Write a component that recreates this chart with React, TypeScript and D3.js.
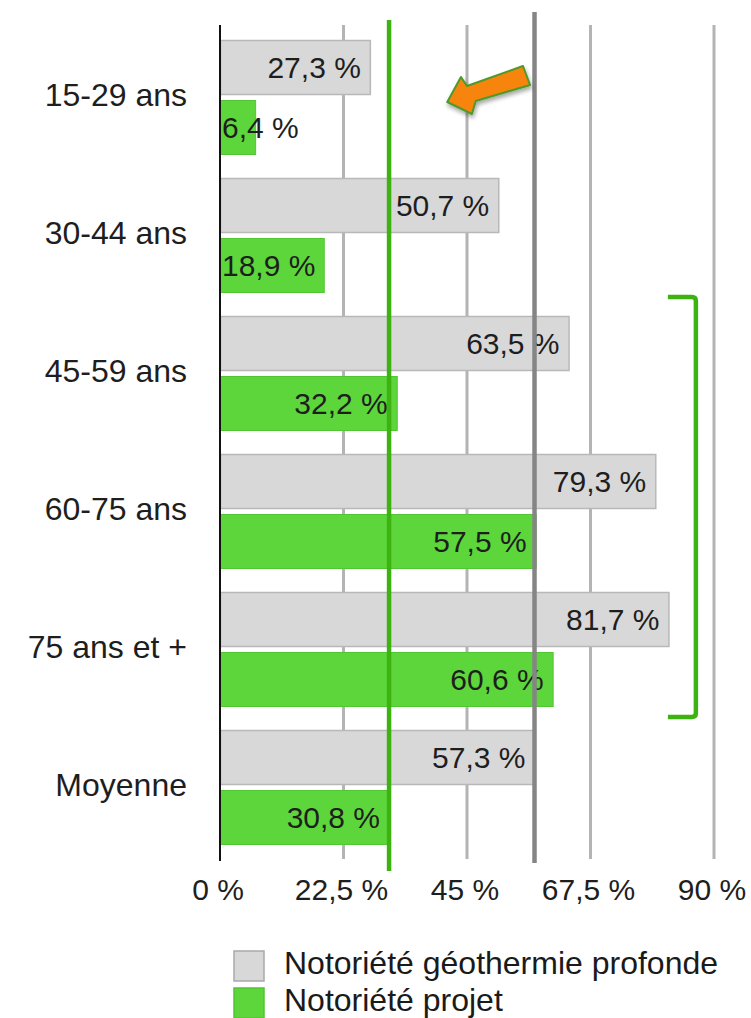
import React, { useEffect, useRef } from "react";
import * as d3 from "d3";

// categories and series (values in %)
const categories = ["15-29 ans", "30-44 ans", "45-59 ans", "60-75 ans", "75 ans et +", "Moyenne"];
const geoValues = [27.3, 50.7, 63.5, 79.3, 81.7, 57.3];
const projetValues = [6.4, 18.9, 32.2, 57.5, 60.6, 30.8];
const tickValues = [0, 22.5, 45, 67.5, 90];
const tickLabels = ["0 %", "22,5 %", "45 %", "67,5 %", "90 %"];
const seriesNames = ["Notoriété géothermie profonde", "Notoriété projet"];

const GRAY = "#d8d8d8";
const GRAY_EDGE = "#b8b8b8";
const GREEN = "#5dd63b";
const GREEN_EDGE = "#52c532";
const LINE_GREEN = "#3db312";
const FONT = "'Liberation Sans', Arial, Helvetica, sans-serif";

function fmt(v: number) {
  return v.toFixed(1).replace(".", ",") + " %";
}

export default function App() {
  const ref = useRef<SVGSVGElement | null>(null);

  useEffect(() => {
    document.body.style.margin = "0";
    const svg = d3.select(ref.current);
    svg.selectAll("*").remove();

    const width = 751;
    const height = 1018;

    const x = d3.scaleLinear().domain([0, 90]).range([220, 714]);
    const y = d3.scaleBand<string>().domain(categories).range([40, 845]).paddingInner(23 / 138).paddingOuter(0);
    const sub = d3.scaleBand<string>().domain(["geo", "projet"]).range([0, y.bandwidth()]).paddingInner(5 / 60);

    const rows = categories.map((c, i) => ({ cat: c, geo: geoValues[i], projet: projetValues[i] }));

    // gridlines (behind bars)
    svg
      .append("g")
      .selectAll("line")
      .data(tickValues.slice(1))
      .join("line")
      .attr("x1", (d) => x(d))
      .attr("x2", (d) => x(d))
      .attr("y1", 25)
      .attr("y2", 859)
      .attr("stroke", "#b4b4b4")
      .attr("stroke-width", 3);

    const g = svg.append("g");
    const groups = g
      .selectAll("g")
      .data(rows)
      .join("g")
      .attr("transform", (d) => `translate(0,${y(d.cat)})`);

    groups
      .append("rect")
      .attr("x", x(0) + 0.5)
      .attr("y", sub("geo")! + 0.5)
      .attr("width", (d) => x(d.geo) - x(0))
      .attr("height", sub.bandwidth() - 1)
      .attr("fill", GRAY)
      .attr("stroke", GRAY_EDGE)
      .attr("stroke-width", 1.5);

    groups
      .append("rect")
      .attr("x", x(0) + 0.5)
      .attr("y", sub("projet")! + 0.5)
      .attr("width", (d) => x(d.projet) - x(0))
      .attr("height", sub.bandwidth() - 1)
      .attr("fill", GREEN)
      .attr("stroke", GREEN_EDGE)
      .attr("stroke-width", 1);

    // average lines
    const avgGeo = geoValues[geoValues.length - 1];
    const avgProjet = projetValues[projetValues.length - 1];
    svg
      .append("line")
      .attr("x1", x(avgGeo))
      .attr("x2", x(avgGeo))
      .attr("y1", 12)
      .attr("y2", 863)
      .attr("stroke", "#858585")
      .attr("stroke-width", 4.5);

    // axis line
    svg
      .append("line")
      .attr("x1", x(0))
      .attr("x2", x(0))
      .attr("y1", 25)
      .attr("y2", 861)
      .attr("stroke", "#111")
      .attr("stroke-width", 2);

    // value labels
    const labelFor = (sel: any, key: "geo" | "projet") => {
      sel
        .append("text")
        .attr("font-family", FONT)
        .attr("font-size", 30)
        .attr("fill", "#1e1e1e")
        .attr("y", sub(key)! + sub.bandwidth() / 2 + 10.5)
        .each(function (this: SVGTextElement, d: any) {
          const t = d3.select(this).text(fmt(d[key]));
          const w = this.getComputedTextLength();
          const end = x(d[key]) - 9;
          if (end - w < x(0) + 2) {
            t.attr("x", x(0) + 2).attr("text-anchor", "start");
          } else {
            t.attr("x", end).attr("text-anchor", "end");
          }
        });
    };
    labelFor(groups, "geo");
    labelFor(groups, "projet");

    svg
      .append("line")
      .attr("x1", x(avgProjet))
      .attr("x2", x(avgProjet))
      .attr("y1", 20)
      .attr("y2", 871)
      .attr("stroke", LINE_GREEN)
      .attr("stroke-width", 4.5);

    // category labels
    svg
      .append("g")
      .selectAll("text")
      .data(categories)
      .join("text")
      .attr("x", 187)
      .attr("y", (d) => y(d)! + y.bandwidth() / 2 + 8)
      .attr("text-anchor", "end")
      .attr("font-family", FONT)
      .attr("font-size", 32)
      .attr("fill", "#1e1e1e")
      .text((d) => d);

    // tick labels
    svg
      .append("g")
      .selectAll("text")
      .data(tickValues)
      .join("text")
      .attr("x", (d) => x(d) - 2)
      .attr("y", 900)
      .attr("text-anchor", "middle")
      .attr("font-family", FONT)
      .attr("font-size", 30)
      .attr("fill", "#1e1e1e")
      .text((d, i) => tickLabels[i]);

    // bracket around 45+ groups
    const bTop = y("45-59 ans")! - 19;
    const bBot = y("75 ans et +")! + y.bandwidth() + 10;
    const bx0 = x(81.6);
    const bx1 = x(86.7);
    svg
      .append("path")
      .attr(
        "d",
        `M${bx0},${bTop} L${bx1 - 4},${bTop} Q${bx1},${bTop} ${bx1},${bTop + 4} L${bx1},${bBot - 4} Q${bx1},${bBot} ${bx1 - 4},${bBot} L${bx0},${bBot}`
      )
      .attr("fill", "none")
      .attr("stroke", LINE_GREEN)
      .attr("stroke-width", 4.5);

    // orange arrow pointing at the average line
    const defs = svg.append("defs");
    const f = defs.append("filter").attr("id", "shadow").attr("x", "-30%").attr("y", "-30%").attr("width", "160%").attr("height", "160%");
    f.append("feDropShadow").attr("dx", 1).attr("dy", 3).attr("stdDeviation", 2).attr("flood-color", "#000").attr("flood-opacity", 0.35);

    const ay = y("15-29 ans")!;
    const arrowPts: [number, number][] = [
      [x(41.4), ay + 62],
      [x(43.9), ay + 37],
      [x(45), ay + 46],
      [x(55.2), ay + 26],
      [x(56.5), ay + 45],
      [x(46.6), ay + 61],
      [x(45.9), ay + 74],
    ];
    svg
      .append("path")
      .attr("d", d3.line()(arrowPts) + "Z")
      .attr("fill", "#f7840c")
      .attr("stroke", "#4e9a2c")
      .attr("stroke-width", 2)
      .attr("stroke-linejoin", "round")
      .attr("filter", "url(#shadow)");

    // legend
    const legend = svg.append("g");
    const colors = [GRAY, GREEN];
    const edges = ["#a9a9a9", GREEN_EDGE];
    seriesNames.forEach((name, i) => {
      legend
        .append("rect")
        .attr("x", 234)
        .attr("y", 951 + i * 37)
        .attr("width", 30)
        .attr("height", 30)
        .attr("fill", colors[i])
        .attr("stroke", edges[i])
        .attr("stroke-width", 1.5);
      legend
        .append("text")
        .attr("x", 284)
        .attr("y", 974 + i * 37)
        .attr("font-family", FONT)
        .attr("font-size", 32)
        .attr("fill", "#1a1a1a")
        .text(name);
    });

    svg.attr("width", width).attr("height", height);
  }, []);

  return <svg ref={ref} width={751} height={1018} style={{ position: "absolute", left: 0, top: 0, background: "#fff" }} />;
}
